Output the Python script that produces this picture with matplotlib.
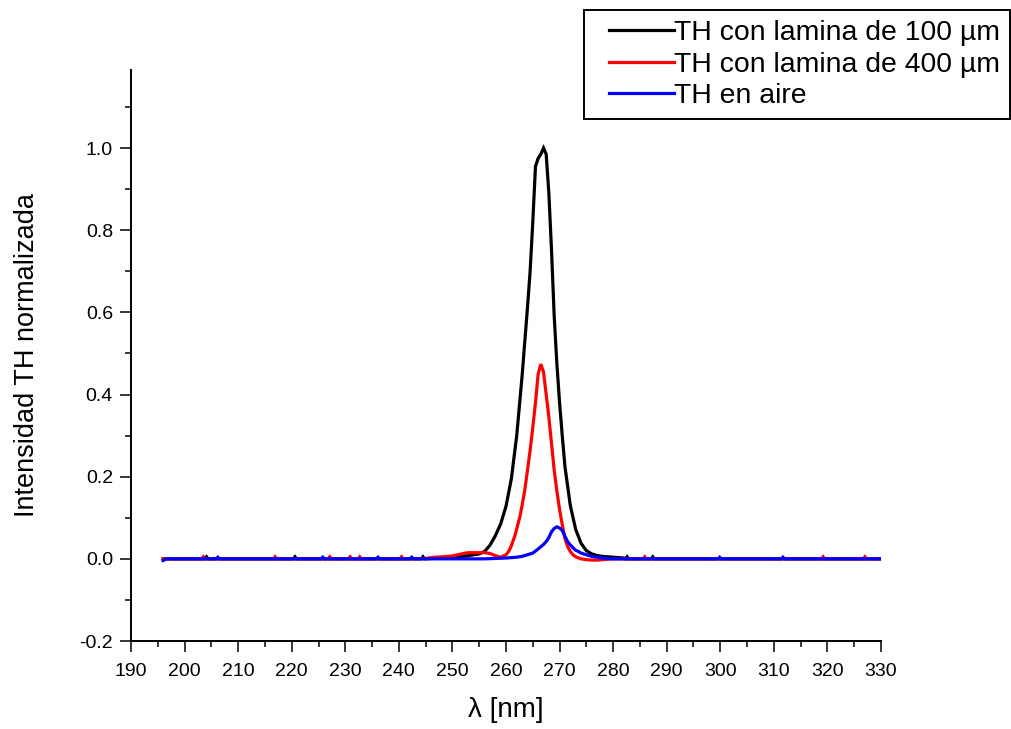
import matplotlib
matplotlib.use("Agg")
import matplotlib.pyplot as plt
from matplotlib.lines import Line2D
from matplotlib.legend_handler import HandlerLine2D
from matplotlib.ticker import MultipleLocator, FormatStrFormatter

plt.rcParams['font.family'] = ['Liberation Sans', 'DejaVu Sans']

# --- Spectra (wavelength in nm, normalised third-harmonic intensity) ---
wl_100 = [196, 200, 203.8, 204.1, 204.4, 210, 220.3, 220.6, 220.9, 230,
          240, 244.2, 244.5, 244.8, 248, 250, 252, 254, 255, 256, 257, 258,
          259, 260, 261, 262, 263, 264, 264.5, 265, 265.5, 266, 266.5, 267,
          267.5, 268, 268.5, 269, 269.5, 270, 270.5, 271, 272, 273, 274, 275,
          276, 277, 278, 279, 280, 282, 282.3, 282.6, 282.9, 287.1, 287.4,
          287.7, 295, 310, 330]
th_100 = [0.0, 0.0, 0.0, 0.005, 0.0, 0.0, 0.0, 0.005, 0.0, 0.0,
          0.0, 0.0, 0.005, 0.0, 0.002, 0.004, 0.006, 0.010, 0.012, 0.018,
          0.033, 0.056, 0.085, 0.128, 0.195, 0.300, 0.445, 0.61, 0.70, 0.82,
          0.955, 0.975, 0.985, 1.000, 0.985, 0.89, 0.75, 0.59, 0.474, 0.38,
          0.30, 0.225, 0.13, 0.072, 0.038, 0.020, 0.012, 0.008, 0.006, 0.005,
          0.004, 0.002, 0.0, 0.005, 0.0, 0.0, 0.005, 0.0, 0.0, 0.0, 0.0]

wl_400 = [196, 203.2, 203.5, 203.8, 210, 216.6, 216.9, 217.2, 226.8, 227.1,
          227.4, 230.6, 230.9, 231.2, 232.4, 232.7, 233.0, 240.2, 240.5,
          240.8, 245, 246, 248, 250, 251, 252, 253, 254, 255, 256, 257, 258,
          259, 260, 260.5, 261, 261.7, 262.6, 263, 263.5, 264, 264.5, 265,
          265.5, 266, 266.5, 267, 267.5, 268, 268.5, 269, 269.5, 270, 270.5,
          271, 271.5, 272, 272.5, 273, 274, 275, 276, 277, 278, 279, 280,
          285.6, 285.9, 286.2, 300, 318.9, 319.2, 319.5, 326.7, 327.0, 327.3,
          330]
th_400 = [0.0, 0.0, 0.005, 0.0, 0.0, 0.0, 0.005, 0.0, 0.0, 0.005,
          0.0, 0.0, 0.005, 0.0, 0.0, 0.005, 0.0, 0.0, 0.005,
          0.0, 0.001, 0.003, 0.005, 0.007, 0.010, 0.013, 0.015, 0.015, 0.015,
          0.015, 0.013, 0.008, 0.004, 0.010, 0.018, 0.032, 0.058, 0.103,
          0.13, 0.167, 0.215, 0.264, 0.32, 0.38, 0.45, 0.474, 0.455, 0.40,
          0.345, 0.28, 0.215, 0.165, 0.12, 0.083, 0.05, 0.03, 0.018, 0.010,
          0.005, 0.0, -0.002, -0.003, -0.003, -0.002, -0.001, 0.0,
          0.0, 0.005, 0.0, 0.0, 0.0, 0.005, 0.0, 0.0, 0.005, 0.0, 0.0]

wl_air = [196, 196.6, 205.9, 206.2, 206.5, 225.5, 225.8, 226.1, 235.8,
          236.1, 236.4, 242.1, 242.4, 242.7, 256, 258, 260, 262, 263, 264,
          265, 266, 267, 267.5, 268, 268.5, 269, 269.5, 270, 270.5, 271,
          271.5, 272, 272.5, 273, 273.5, 274, 275, 276, 277, 278, 280, 299.6,
          299.9, 300.2, 311.4, 311.7, 312.0, 330]
th_air = [-0.004, 0.0, 0.0, 0.004, 0.0, 0.0, 0.004, 0.0, 0.0,
          0.004, 0.0, 0.0, 0.004, 0.0, 0.0, 0.001, 0.002, 0.004, 0.006, 0.010,
          0.014, 0.024, 0.035, 0.042, 0.052, 0.066, 0.074, 0.078, 0.075,
          0.069, 0.055, 0.042, 0.034, 0.027, 0.021, 0.018, 0.014, 0.010,
          0.006, 0.004, 0.002, 0.0, 0.0, 0.004, 0.0, 0.0, 0.004, 0.0, 0.0]

labels = ["TH con lamina de 100 \u00b5m",
          "TH con lamina de 400 \u00b5m",
          "TH en aire"]
colors = ["#000000", "#ff0000", "#0000ff"]

fig = plt.figure(figsize=(10.11, 7.29), dpi=100)
ax = fig.add_axes([0.1296, 0.1207, 0.7418, 0.7833])

lines = []
for wl, th, c, lab in zip([wl_100, wl_400, wl_air], [th_100, th_400, th_air],
                          colors, labels):
    ln, = ax.plot(wl, th, color=c, lw=2.3, label=lab,
                  solid_joinstyle='miter')
    lines.append(ln)

ax.set_xlim(190, 330)
ax.set_ylim(-0.2, 1.19)
ax.xaxis.set_major_locator(MultipleLocator(10))
ax.xaxis.set_minor_locator(MultipleLocator(5))
ax.yaxis.set_major_locator(MultipleLocator(0.2))
ax.yaxis.set_minor_locator(MultipleLocator(0.1))
ax.yaxis.set_major_formatter(FormatStrFormatter('%.1f'))

for s in ['top', 'right']:
    ax.spines[s].set_visible(False)
for s in ['left', 'bottom']:
    ax.spines[s].set_linewidth(1.4)

ax.tick_params(which='major', direction='out', length=8, width=1.1,
               labelsize=14, pad=5)
ax.tick_params(which='minor', direction='out', length=4.5, width=1.1)
ax.tick_params(axis='x', which='major', pad=8)

ax.set_xlabel("\u03bb [nm]", fontsize=20, labelpad=12)
ax.set_ylabel("Intensidad TH normalizada", fontsize=19.5, labelpad=28)

leg = fig.legend(handles=lines, labels=labels, loc='upper right',
                 bbox_to_anchor=(1010 / 1011, 1 - 10 / 729),
                 bbox_transform=fig.transFigure, borderaxespad=0,
                 fontsize=20.4, fancybox=False, framealpha=1,
                 edgecolor='black', borderpad=0.35, labelspacing=0.2,
                 handlelength=2.83, handletextpad=0.0,
                 handler_map={Line2D: HandlerLine2D(xpad=0.53)})
leg.get_frame().set_linewidth(1.4)

fig.savefig("out.png", dpi=100)
